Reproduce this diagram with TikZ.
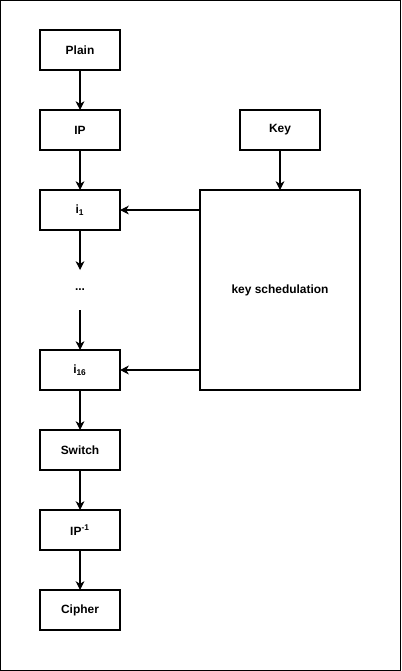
\documentclass[tikz,border=0pt]{standalone}
\usepackage{fontspec}
\setmainfont{Liberation Sans}
\usepackage{tikz}
\usetikzlibrary{arrows, arrows.meta, positioning}
\tikzstyle{process} = [rectangle, minimum width=1.6cm, minimum height=0.8cm, text centered, draw=black, line width=0.6pt, outer sep=0pt, font=\fontsize{6.8}{8}\selectfont\bfseries]
\tikzstyle{dots} = [rectangle, minimum width=1.6cm, minimum height=0.8cm, outer sep=0pt, text centered, font=\fontsize{6.8}{8}\selectfont\bfseries]
\tikzstyle{arrow} = [line width=0.6pt,-{Stealth[length=5pt,width=5pt,inset=1.5pt]}]

\begin{document}
\begin{tikzpicture}[node distance=0.8cm]
		
		% frame
		\draw[line width=0.6pt] (0.01,-0.01) rectangle (8.01,-13.41);
		\useasboundingbox (0,0) rectangle (8.02,-13.42);
		
		\node (plain) [process] at (1.6,-1.0) {Plain};
		\node (ip) [process, below=of plain] {IP};
		\node (i1) [process, below=of ip] {i\textsubscript{1}};
		\node (dots) [dots, below=of i1] {...};
		\node (i16) [process, below=of dots] {i\textsubscript{16}};
		\node (switch) [process, below=of i16] {Switch};
		\node (ipinv) [process, below=of switch] {IP\textsuperscript{-1}};
		\node (cipher) [process, below=of ipinv] {Cipher};
		
		\node (key) [process, right=2.4cm of ip] {Key};
		\node (sched) [process, below=of key, minimum width=3.2cm, minimum height=4cm] {key schedulation};
		
		\draw [arrow] (plain) -- (ip);
		\draw [arrow] (ip) -- (i1);
		\draw [arrow] (i1) -- (dots);
		\draw [arrow] (dots) -- (i16);
		\draw [arrow] (i16) -- (switch);
		\draw [arrow] (switch) -- (ipinv);
		\draw [arrow] (ipinv) -- (cipher);
		
		\draw [arrow] (key) -- (sched);
		\draw [arrow] (sched.west |- i1.east) -- (i1.east);
		\draw [arrow] (sched.west |- i16.east) -- (i16.east);
		
	\end{tikzpicture}
\end{document}
